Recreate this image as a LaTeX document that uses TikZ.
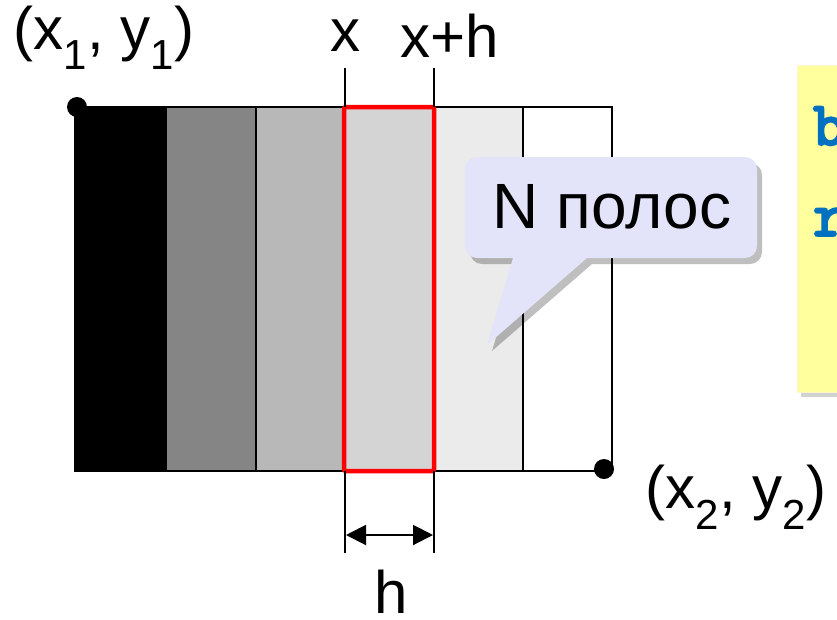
\documentclass[tikz,border=0pt]{standalone}
\usepackage{fontspec}
\setmainfont{Liberation Sans}
\newfontfamily\codefont{Latin Modern Mono}[AutoFakeBold=4]
\usetikzlibrary{arrows.meta,shadows,calc}
\definecolor{gA}{HTML}{858585}
\definecolor{gB}{HTML}{B8B8B8}
\definecolor{gC}{HTML}{D4D4D4}
\definecolor{gD}{HTML}{EBEBEB}
\definecolor{noteyellow}{HTML}{FFFF9E}
\definecolor{codeblue}{HTML}{0070C0}
\definecolor{calloutfill}{HTML}{E3E3FA}
\tikzset{
  stripe/.style={draw=black, line width=2pt},
  lbl/.style={font=\fontsize{60}{64}\selectfont, inner sep=0pt},
  tick/.style={line width=2pt},
  enddot/.style={circle, fill=black, minimum size=20pt, inner sep=0pt},
  dimarrow/.style={line width=2pt, {Triangle[length=20pt,width=20pt]}-{Triangle[length=20pt,width=20pt]}},
}
\begin{document}
\begin{tikzpicture}[x=1pt,y=-1pt]
\useasboundingbox (0,0) rectangle (837,619);
% yellow note (partly cut off)
\fill[gray!60, opacity=0.6] (801,69) rectangle (845,397);
\node[draw=noteyellow!80!orange!40, fill=noteyellow, minimum width=60pt, minimum height=327pt, anchor=north west, inner sep=0pt] (note) at (797,65) {};
\node[anchor=west, font=\codefont\bfseries\fontsize{62}{64}\selectfont, text=codeblue, inner sep=0pt] (codeb) at (813,126) {b};
\node[anchor=west, font=\codefont\bfseries\fontsize{62}{64}\selectfont, text=codeblue, inner sep=0pt] (coder) at (813,222) {r};
% stripes
\draw[stripe, fill=black] (75,107) rectangle (166,471);
\draw[stripe, fill=gA] (166,107) rectangle (256,471);
\draw[stripe, fill=gB] (256,107) rectangle (344,471);
\draw[stripe, fill=gC] (344,107) rectangle (434,471);
\draw[stripe, fill=gD] (434,107) rectangle (523,471);
\draw[stripe, fill=white] (523,107) rectangle (612,471);
\draw[red, line width=4.5pt, rounded corners=2pt] (344,107) rectangle (434,471);
% corner dots
\node[enddot] (p1) at (77,107) {};
\node[enddot] (p2) at (604,469) {};
% ticks and dimension
\coordinate (ta) at (345,68);
\coordinate (tb) at (434,68);
\coordinate (ba) at (345,553);
\coordinate (bb) at (434,553);
\coordinate (sa) at (345,107);
\coordinate (sb) at (434,107);
\coordinate (sc) at (345,471);
\coordinate (sd) at (434,471);
\draw[tick] (ta) -- (sa);
\draw[tick] (tb) -- (sb);
\draw[tick] (sc) -- (ba);
\draw[tick] (sd) -- (bb);
\coordinate (da) at (346,535);
\coordinate (db) at (433,535);
\draw[dimarrow] (da) -- (db);
% labels
\node[lbl] (l1) at (104,38) {(x\textsubscript{1}, y\textsubscript{1})};
\node[lbl] (lx) at (345,36) {x};
\node[lbl] (lxh) at (450,36) {x+h};
\node[lbl] (lh) at (391,592) {h};
\node[lbl] (l2) at (736,497) {(x\textsubscript{2}, y\textsubscript{2})};
% callout
\fill[black, opacity=0.25] ($(465,157)+(5,6)$) [rounded corners=12pt] -- ($(757,157)+(5,6)$) -- ($(757,258)+(5,6)$) [sharp corners]-- ($(587,258)+(5,6)$) -- ($(487,345)+(5,6)$) -- ($(513,258)+(5,6)$) [rounded corners=12pt]-- ($(465,258)+(5,6)$) -- cycle;
\fill[calloutfill] (465,157) [rounded corners=12pt] -- (757,157) -- (757,258) [sharp corners]-- (587,258) -- (487,345) -- (513,258) [rounded corners=12pt]-- (465,258) -- cycle;
\node[lbl, font=\fontsize{64}{66}\selectfont] (callout) at (612,207) {N полос};
\end{tikzpicture}
\end{document}
